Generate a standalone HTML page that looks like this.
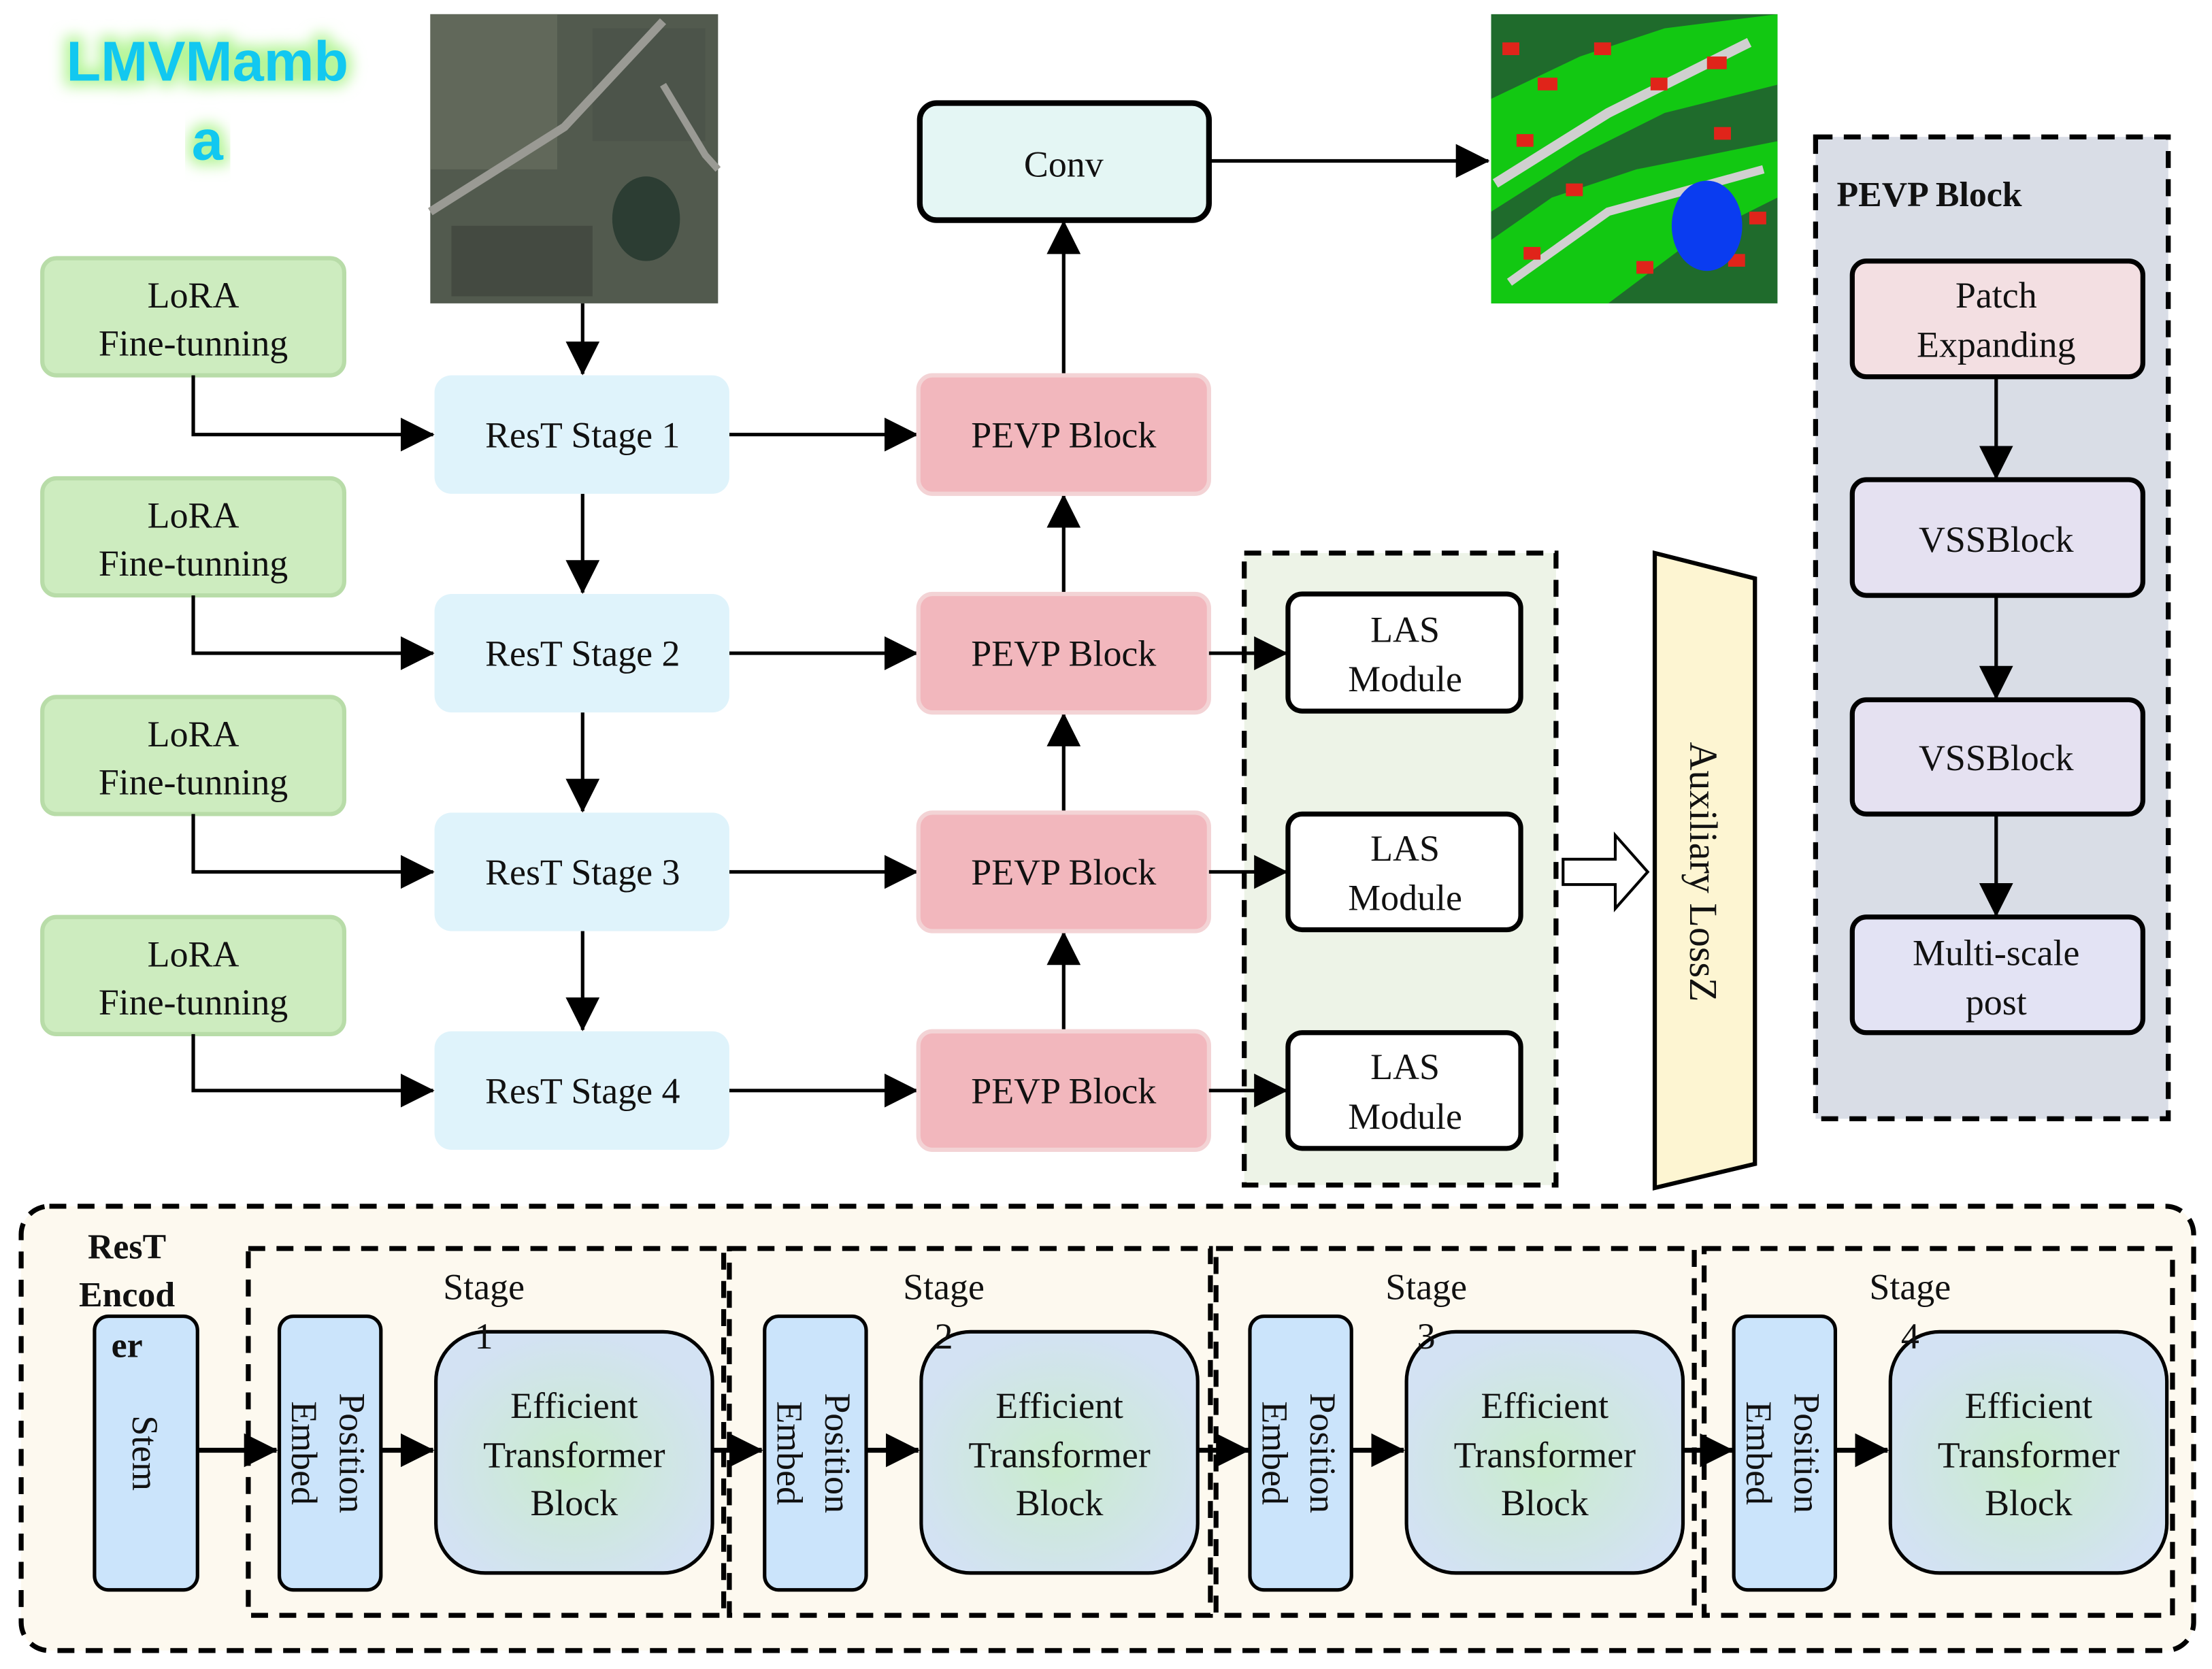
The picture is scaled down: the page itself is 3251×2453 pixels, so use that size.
<!DOCTYPE html>
<html><head><meta charset="utf-8"><style>
html,body{margin:0;padding:0;background:#fff;}
svg{display:block;}
svg text{font-family:"Liberation Serif","DejaVu Serif",serif;fill:#111;}
svg text.sans{font-family:"Liberation Sans",sans-serif;}
</style></head><body>
<svg width="3251" height="2453" viewBox="0 0 1568 1183" xmlns="http://www.w3.org/2000/svg" font-family="Liberation Serif, serif">
<defs>
<marker id="ab" markerWidth="24" markerHeight="24" refX="23" refY="12" orient="auto" markerUnits="userSpaceOnUse" viewBox="0 0 24 24">
<path d="M0,0 L24,12 L0,24 z" fill="#000"/></marker>
<radialGradient id="etb" cx="50%" cy="55%" r="55%">
<stop offset="0" stop-color="#c9eccc"/><stop offset="1" stop-color="#d3e2f3"/></radialGradient>
<filter id="glow" x="-20%" y="-40%" width="140%" height="180%"><feGaussianBlur stdDeviation="5"/></filter>
</defs>

<!-- Title -->
<g font-weight="bold" font-size="40">
<text class="sans" x="147" y="57" text-anchor="middle" style="fill:#b6f59a" filter="url(#glow)" stroke="#b6f59a" stroke-width="8">LMVMamb</text>
<text class="sans" x="147" y="113" text-anchor="middle" style="fill:#b6f59a" filter="url(#glow)" stroke="#b6f59a" stroke-width="8">a</text>
<text class="sans" x="147" y="57" text-anchor="middle" style="fill:#12c8f0">LMVMamb</text>
<text class="sans" x="147" y="113" text-anchor="middle" style="fill:#12c8f0">a</text>
</g>

<!-- Aerial image -->
<rect x="305" y="10" width="204" height="205" fill="#525a4e"/>
<rect x="305" y="10" width="90" height="110" fill="#6c7263" opacity="0.6"/>
<rect x="420" y="20" width="80" height="80" fill="#4a5047" opacity="0.6"/>
<path d="M305,150 L400,90 L470,15" stroke="#9a9a94" stroke-width="6" fill="none"/>
<path d="M470,60 L500,110 L509,120" stroke="#9a9a94" stroke-width="5" fill="none"/>
<ellipse cx="458" cy="155" rx="24" ry="30" fill="#2c3d33"/>
<rect x="320" y="160" width="100" height="50" fill="#3e433c" opacity="0.7"/>

<!-- Seg image -->
<rect x="1057" y="10" width="203" height="205" fill="#1f6b2c"/>
<path d="M1057,70 L1120,40 L1180,20 L1260,10 L1260,60 L1180,80 L1120,110 L1057,150 z" fill="#12c812"/>
<path d="M1057,170 L1100,140 L1160,120 L1260,100 L1260,140 L1200,170 L1140,215 L1057,215 z" fill="#12c812"/>
<path d="M1060,130 L1140,80 L1240,30" stroke="#d0d0d0" stroke-width="7" fill="none"/>
<path d="M1070,200 L1140,150 L1250,120" stroke="#d0d0d0" stroke-width="6" fill="none"/>
<g fill="#e0241a">
<rect x="1065" y="30" width="12" height="9"/><rect x="1090" y="55" width="14" height="9"/><rect x="1130" y="30" width="12" height="9"/>
<rect x="1170" y="55" width="12" height="9"/><rect x="1210" y="40" width="14" height="9"/><rect x="1075" y="95" width="12" height="9"/>
<rect x="1110" y="130" width="12" height="9"/><rect x="1080" y="175" width="12" height="9"/><rect x="1225" y="180" width="12" height="9"/>
<rect x="1215" y="90" width="12" height="9"/><rect x="1160" y="185" width="12" height="9"/><rect x="1240" y="150" width="12" height="9"/>
</g>
<ellipse cx="1210" cy="160" rx="25" ry="32" fill="#0a3cf0"/>

<!-- Conv -->
<rect x="652" y="73" width="205" height="83" rx="12" fill="#e4f6f4" stroke="#000" stroke-width="4"/>
<text x="754" y="125" font-size="26" text-anchor="middle">Conv</text>
<line x1="857" y1="114" x2="1055" y2="114" stroke="#000" stroke-width="2.5" marker-end="url(#ab)"/>

<!-- LoRA -->
<g font-size="26" text-anchor="middle">
<rect x="30" y="183" width="214" height="83" rx="10" fill="#cdecbf" stroke="#b8dca8" stroke-width="3"/>
<text x="137" y="218">LoRA</text><text x="137" y="252">Fine-tunning</text>
<rect x="30" y="339" width="214" height="83" rx="10" fill="#cdecbf" stroke="#b8dca8" stroke-width="3"/>
<text x="137" y="374">LoRA</text><text x="137" y="408">Fine-tunning</text>
<rect x="30" y="494" width="214" height="83" rx="10" fill="#cdecbf" stroke="#b8dca8" stroke-width="3"/>
<text x="137" y="529">LoRA</text><text x="137" y="563">Fine-tunning</text>
<rect x="30" y="650" width="214" height="83" rx="10" fill="#cdecbf" stroke="#b8dca8" stroke-width="3"/>
<text x="137" y="685">LoRA</text><text x="137" y="719">Fine-tunning</text>
</g>

<g stroke="#000" stroke-width="2.5" fill="none">
<path d="M137,266 V308 H307" marker-end="url(#ab)"/>
<path d="M137,422 V463 H307" marker-end="url(#ab)"/>
<path d="M137,577 V618 H307" marker-end="url(#ab)"/>
<path d="M137,733 V773 H307" marker-end="url(#ab)"/>
<path d="M413,215 V265" marker-end="url(#ab)"/>
<path d="M413,350 V420" marker-end="url(#ab)"/>
<path d="M413,505 V575" marker-end="url(#ab)"/>
<path d="M413,660 V730" marker-end="url(#ab)"/>
<path d="M517,308 H650" marker-end="url(#ab)"/>
<path d="M517,463 H650" marker-end="url(#ab)"/>
<path d="M517,618 H650" marker-end="url(#ab)"/>
<path d="M517,773 H650" marker-end="url(#ab)"/>
<path d="M754,266 V157" marker-end="url(#ab)"/>
<path d="M754,421 V351" marker-end="url(#ab)"/>
<path d="M754,576 V506" marker-end="url(#ab)"/>
<path d="M754,731 V661" marker-end="url(#ab)"/>
</g>

<!-- ResT stages -->
<g font-size="26" text-anchor="middle">
<rect x="308" y="266" width="209" height="84" rx="12" fill="#dff3fb"/><text x="413" y="317">ResT Stage 1</text>
<rect x="308" y="421" width="209" height="84" rx="12" fill="#dff3fb"/><text x="413" y="472">ResT Stage 2</text>
<rect x="308" y="576" width="209" height="84" rx="12" fill="#dff3fb"/><text x="413" y="627">ResT Stage 3</text>
<rect x="308" y="731" width="209" height="84" rx="12" fill="#dff3fb"/><text x="413" y="782">ResT Stage 4</text>
<rect x="651" y="266" width="206" height="84" rx="10" fill="#f2b7bd" stroke="#f3d3d5" stroke-width="3"/><text x="754" y="317">PEVP Block</text>
<rect x="651" y="421" width="206" height="84" rx="10" fill="#f2b7bd" stroke="#f3d3d5" stroke-width="3"/><text x="754" y="472">PEVP Block</text>
<rect x="651" y="576" width="206" height="84" rx="10" fill="#f2b7bd" stroke="#f3d3d5" stroke-width="3"/><text x="754" y="627">PEVP Block</text>
<rect x="651" y="731" width="206" height="84" rx="10" fill="#f2b7bd" stroke="#f3d3d5" stroke-width="3"/><text x="754" y="782">PEVP Block</text>
</g>

<!-- LAS panel -->
<rect x="882" y="392" width="221" height="448" fill="#edf3e7" stroke="#000" stroke-width="3.5" stroke-dasharray="12,8"/>
<g stroke="#000" stroke-width="2.5" fill="none">
<path d="M857,463 H912" marker-end="url(#ab)"/>
<path d="M857,618 H912" marker-end="url(#ab)"/>
<path d="M857,773 H912" marker-end="url(#ab)"/>
</g>
<g font-size="26" text-anchor="middle">
<rect x="913" y="421" width="165" height="83" rx="10" fill="#fff" stroke="#000" stroke-width="3.5"/><text x="996" y="455">LAS</text><text x="996" y="490">Module</text>
<rect x="913" y="577" width="165" height="82" rx="10" fill="#fff" stroke="#000" stroke-width="3.5"/><text x="996" y="610">LAS</text><text x="996" y="645">Module</text>
<rect x="913" y="732" width="165" height="82" rx="10" fill="#fff" stroke="#000" stroke-width="3.5"/><text x="996" y="765">LAS</text><text x="996" y="800">Module</text>
</g>

<path d="M1108,609 H1145 V592 L1168,618 L1145,644 V627 H1108 z" fill="#fff" stroke="#000" stroke-width="2"/>
<path d="M1173,392 L1244,410 L1244,825 L1173,842 z" fill="#fdf5d2" stroke="#000" stroke-width="3"/>
<text x="0" y="0" font-size="28" text-anchor="middle" transform="translate(1198,618) rotate(90)">Auxiliary LossZ</text>

<!-- PEVP panel -->
<rect x="1287" y="97" width="250" height="696" fill="#d9dde6" stroke="#000" stroke-width="3.5" stroke-dasharray="12,8"/>
<text x="1302" y="146" font-size="25" font-weight="bold">PEVP Block</text>
<g stroke="#000" stroke-width="2.5"><line x1="1415" y1="267" x2="1415" y2="339" marker-end="url(#ab)"/>
<line x1="1415" y1="422" x2="1415" y2="495" marker-end="url(#ab)"/>
<line x1="1415" y1="577" x2="1415" y2="649" marker-end="url(#ab)"/></g>
<g font-size="26" text-anchor="middle">
<rect x="1313" y="185" width="206" height="82" rx="10" fill="#f3dfe2" stroke="#000" stroke-width="3.5"/><text x="1415" y="218">Patch</text><text x="1415" y="253">Expanding</text>
<rect x="1313" y="340" width="206" height="82" rx="10" fill="#e5e1f1" stroke="#000" stroke-width="3.5"/><text x="1415" y="391">VSSBlock</text>
<rect x="1313" y="496" width="206" height="81" rx="10" fill="#e5e1f1" stroke="#000" stroke-width="3.5"/><text x="1415" y="546">VSSBlock</text>
<rect x="1313" y="650" width="206" height="82" rx="10" fill="#e3e3f4" stroke="#000" stroke-width="3.5"/><text x="1415" y="684">Multi-scale</text><text x="1415" y="719">post</text>
</g>

<!-- Bottom encoder -->
<rect x="15" y="855" width="1540" height="315" rx="20" fill="#fdf9ef" stroke="#000" stroke-width="3.5" stroke-dasharray="12,8"/>
<g font-size="25" font-weight="bold" text-anchor="middle">
<text x="90" y="892">ResT</text><text x="90" y="926">Encod</text>
</g>
<rect x="67" y="933" width="73" height="194" rx="10" fill="#cbe4fb" stroke="#000" stroke-width="2.5"/>
<text x="90" y="962" font-size="25" font-weight="bold" text-anchor="middle">er</text>
<text font-size="26" text-anchor="middle" transform="translate(94,1030) rotate(90)">Stem</text>
<line x1="140" y1="1028" x2="196" y2="1028" stroke="#000" stroke-width="3.5" marker-end="url(#ab)"/>

<g>
<rect x="176" y="885" width="337" height="260" fill="none" stroke="#000" stroke-width="3.5" stroke-dasharray="12,8"/>
<rect x="517" y="885" width="341" height="260" fill="none" stroke="#000" stroke-width="3.5" stroke-dasharray="12,8"/>
<rect x="862" y="885" width="339" height="260" fill="none" stroke="#000" stroke-width="3.5" stroke-dasharray="12,8"/>
<rect x="1208" y="885" width="332" height="260" fill="none" stroke="#000" stroke-width="3.5" stroke-dasharray="12,8"/>
</g>

<g font-size="26" text-anchor="middle">
<g>
<rect x="198" y="933" width="72" height="194" rx="10" fill="#cbe4fb" stroke="#000" stroke-width="2.5"/>
<text transform="translate(234,1030) rotate(90)"><tspan x="0" y="-7">Position</tspan><tspan x="0" y="27">Embed</tspan></text>
<line x1="270" y1="1028" x2="307" y2="1028" stroke="#000" stroke-width="3.5" marker-end="url(#ab)"/>
<rect x="309" y="944" width="196" height="171" rx="35" fill="url(#etb)" stroke="#000" stroke-width="2.5"/>
<text x="407" y="1005">Efficient</text><text x="407" y="1040">Transformer</text><text x="407" y="1074">Block</text>
<line x1="505" y1="1028" x2="540" y2="1028" stroke="#000" stroke-width="3.5" marker-end="url(#ab)"/>
<text x="343" y="921">Stage</text><text x="343" y="956">1</text>
</g>
<g transform="translate(344,0)">
<rect x="198" y="933" width="72" height="194" rx="10" fill="#cbe4fb" stroke="#000" stroke-width="2.5"/>
<text transform="translate(234,1030) rotate(90)"><tspan x="0" y="-7">Position</tspan><tspan x="0" y="27">Embed</tspan></text>
<line x1="270" y1="1028" x2="307" y2="1028" stroke="#000" stroke-width="3.5" marker-end="url(#ab)"/>
<rect x="309" y="944" width="196" height="171" rx="35" fill="url(#etb)" stroke="#000" stroke-width="2.5"/>
<text x="407" y="1005">Efficient</text><text x="407" y="1040">Transformer</text><text x="407" y="1074">Block</text>
<line x1="505" y1="1028" x2="541" y2="1028" stroke="#000" stroke-width="3.5" marker-end="url(#ab)"/>
<text x="325" y="921">Stage</text><text x="325" y="956">2</text>
</g>
<g transform="translate(688,0)">
<rect x="198" y="933" width="72" height="194" rx="10" fill="#cbe4fb" stroke="#000" stroke-width="2.5"/>
<text transform="translate(234,1030) rotate(90)"><tspan x="0" y="-7">Position</tspan><tspan x="0" y="27">Embed</tspan></text>
<line x1="270" y1="1028" x2="307" y2="1028" stroke="#000" stroke-width="3.5" marker-end="url(#ab)"/>
<rect x="309" y="944" width="196" height="171" rx="35" fill="url(#etb)" stroke="#000" stroke-width="2.5"/>
<text x="407" y="1005">Efficient</text><text x="407" y="1040">Transformer</text><text x="407" y="1074">Block</text>
<line x1="505" y1="1028" x2="540" y2="1028" stroke="#000" stroke-width="3.5" marker-end="url(#ab)"/>
<text x="323" y="921">Stage</text><text x="323" y="956">3</text>
</g>
<g transform="translate(1031,0)">
<rect x="198" y="933" width="72" height="194" rx="10" fill="#cbe4fb" stroke="#000" stroke-width="2.5"/>
<text transform="translate(234,1030) rotate(90)"><tspan x="0" y="-7">Position</tspan><tspan x="0" y="27">Embed</tspan></text>
<line x1="270" y1="1028" x2="307" y2="1028" stroke="#000" stroke-width="3.5" marker-end="url(#ab)"/>
<rect x="309" y="944" width="196" height="171" rx="35" fill="url(#etb)" stroke="#000" stroke-width="2.5"/>
<text x="407" y="1005">Efficient</text><text x="407" y="1040">Transformer</text><text x="407" y="1074">Block</text>
<text x="323" y="921">Stage</text><text x="323" y="956">4</text>
</g>
</g>
</svg>
</body></html>
